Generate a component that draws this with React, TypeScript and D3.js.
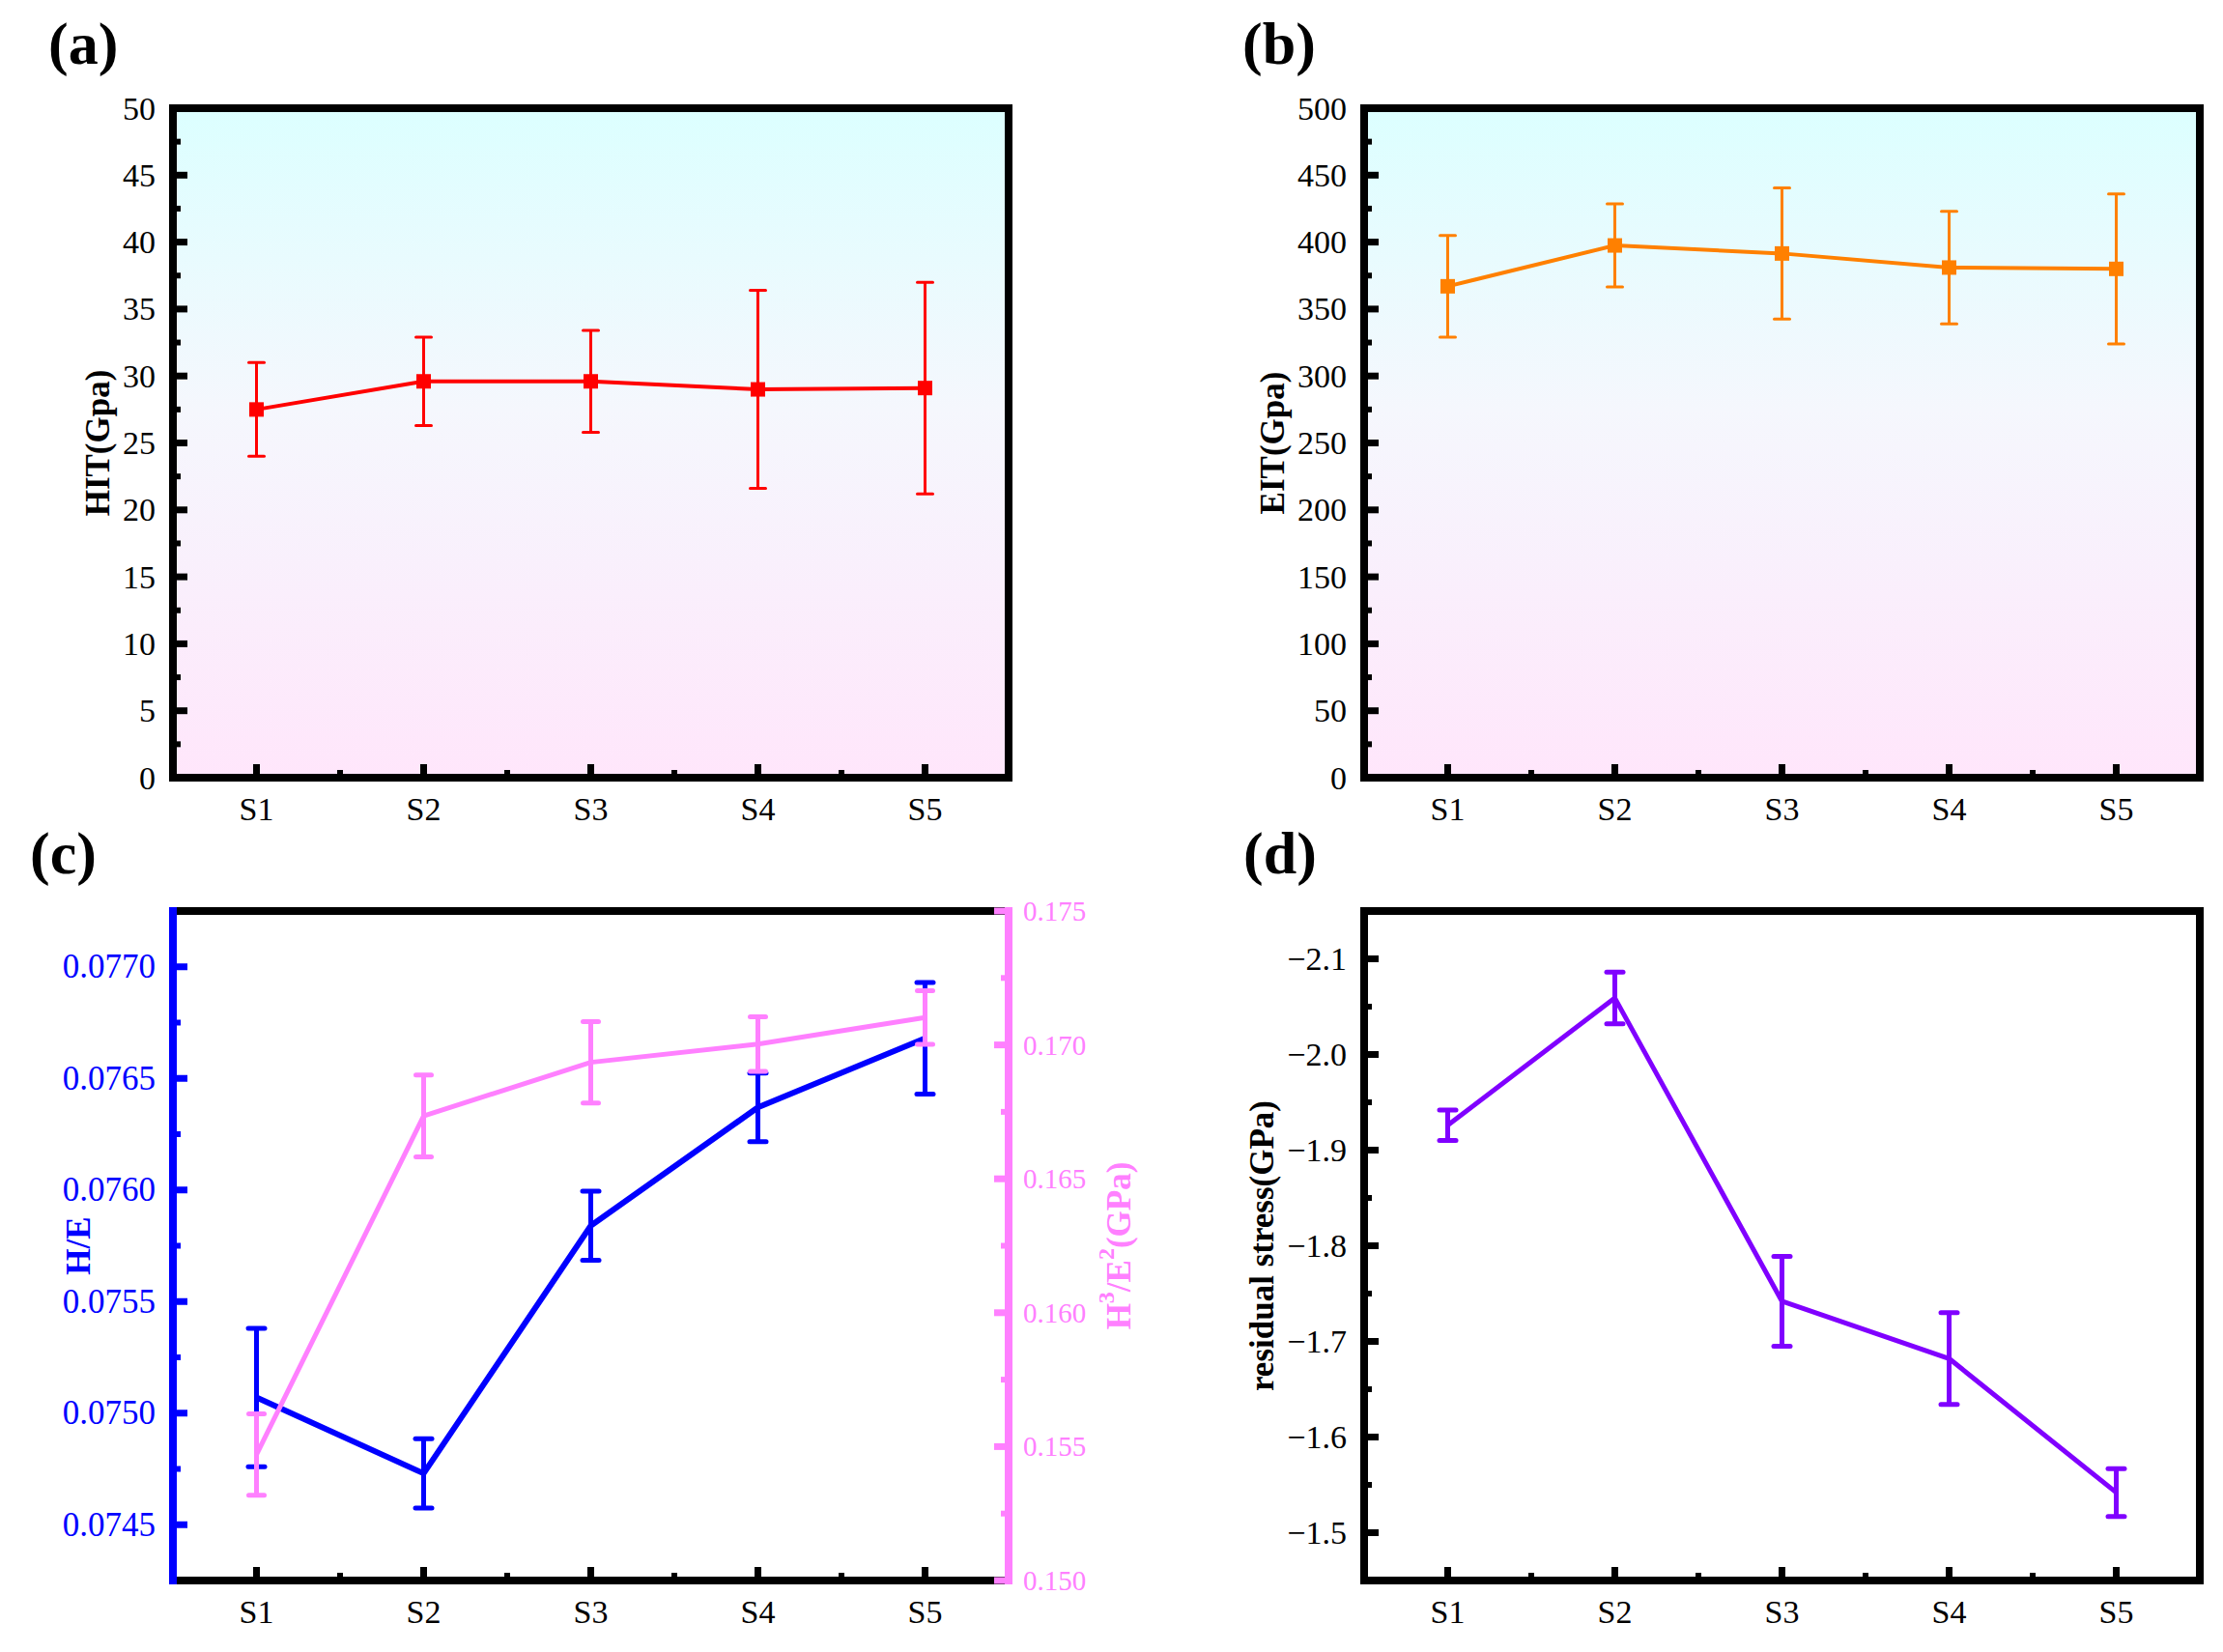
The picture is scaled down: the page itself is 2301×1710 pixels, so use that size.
import * as d3 from "d3";
import React from "react";

// sample names
const categories = ["S1", "S2", "S3", "S4", "S5"];

// (a) hardness
const hitValues = [27.5, 29.6, 29.6, 29.0, 29.1];
const hitErrors = [3.5, 3.3, 3.8, 7.4, 7.9];
const hitTicks = [0, 5, 10, 15, 20, 25, 30, 35, 40, 45, 50];

// (b) modulus
const eitValues = [367, 397.5, 391.5, 381, 380];
const eitErrors = [38, 31, 49, 42, 56];
const eitTicks = [0, 50, 100, 150, 200, 250, 300, 350, 400, 450, 500];

// (c) H/E and H3/E2
const heValues = [0.07507, 0.07473, 0.07584, 0.07637, 0.07668];
const heErrors = [0.00031, 0.000155, 0.000155, 0.000154, 0.00025];
const heTicks = [0.0745, 0.075, 0.0755, 0.076, 0.0765, 0.077];
const h3e2Values = [0.1547, 0.16735, 0.16935, 0.17003, 0.17102];
const h3e2Errors = [0.00152, 0.00153, 0.00152, 0.00102, 0.001];
const h3e2Ticks = [0.15, 0.155, 0.16, 0.165, 0.17, 0.175];

// (d) residual stress
const stressValues = [-1.926, -2.059, -1.742, -1.682, -1.542];
const stressErrors = [0.016, 0.027, 0.047, 0.048, 0.025];
const stressTicks = [-2.1, -2.0, -1.9, -1.8, -1.7, -1.6, -1.5];

const FONT = "'Liberation Serif', 'Times New Roman', serif";
const FRAME = 8;

type Box = { left: number; right: number; top: number; bottom: number };

const col1 = { left: 179, right: 1044 };
const col2 = { left: 1412, right: 2277 };
const row1 = { top: 112, bottom: 805 };
const row2 = { top: 943, bottom: 1636 };

const midpoints = (ticks: number[]) =>
  ticks.slice(1).map((t, i) => (t + ticks[i]) / 2);

function xScaleFor(b: Box) {
  return d3.scaleLinear().domain([0.5, 5.5]).range([b.left, b.right]);
}

interface SeriesProps {
  values: number[];
  errors: number[];
  color: string;
  x: d3.ScaleLinear<number, number>;
  y: d3.ScaleLinear<number, number>;
  lineWidth: number;
  barWidth: number;
  capWidth: number;
  marker?: number;
}

function Series({ values, errors, color, x, y, lineWidth, barWidth, capWidth, marker }: SeriesProps) {
  const line = d3
    .line<number>()
    .x((_, i) => x(i + 1))
    .y((d) => y(d));
  return (
    <g>
      {values.map((v, i) => {
        const cx = x(i + 1);
        const y1 = y(v - errors[i]);
        const y2 = y(v + errors[i]);
        return (
          <g key={i} stroke={color} strokeWidth={barWidth}>
            <line x1={cx} x2={cx} y1={y1} y2={y2} />
            <line x1={cx - capWidth / 2} x2={cx + capWidth / 2} y1={y1} y2={y1} strokeLinecap="round" />
            <line x1={cx - capWidth / 2} x2={cx + capWidth / 2} y1={y2} y2={y2} strokeLinecap="round" />
          </g>
        );
      })}
      <path d={line(values) || ""} fill="none" stroke={color} strokeWidth={lineWidth} strokeLinejoin="round" />
      {marker
        ? values.map((v, i) => (
            <rect
              key={i}
              x={x(i + 1) - marker / 2}
              y={y(v) - marker / 2}
              width={marker}
              height={marker}
              fill={color}
            />
          ))
        : null}
    </g>
  );
}

function LeftAxis({
  b, y, ticks, fmt, color, fontSize = 34,
}: { b: Box; y: d3.ScaleLinear<number, number>; ticks: number[]; fmt: (n: number) => string; color: string; fontSize?: number }) {
  const minors = midpoints(ticks);
  return (
    <g>
      {ticks.map((t) => (
        <line key={"M" + t} x1={b.left} x2={b.left + FRAME / 2 + 11} y1={y(t)} y2={y(t)} stroke={color} strokeWidth={7} />
      ))}
      {minors.map((t) => (
        <line key={"m" + t} x1={b.left} x2={b.left + FRAME / 2 + 4} y1={y(t)} y2={y(t)} stroke={color} strokeWidth={6} />
      ))}
      {ticks.map((t) => (
        <text
          key={"t" + t}
          x={b.left - 18}
          y={y(t)}
          textAnchor="end"
          dominantBaseline="central"
          fontFamily={FONT}
          fontSize={fontSize}
          fill={color}
        >
          {fmt(t)}
        </text>
      ))}
    </g>
  );
}

function BottomAxis({ b, x }: { b: Box; x: d3.ScaleLinear<number, number> }) {
  const major = categories.map((_, i) => i + 1);
  const minor = [1.5, 2.5, 3.5, 4.5];
  return (
    <g>
      {major.map((t) => (
        <line key={"M" + t} x1={x(t)} x2={x(t)} y1={b.bottom} y2={b.bottom - FRAME / 2 - 10} stroke="#000" strokeWidth={7} />
      ))}
      {minor.map((t) => (
        <line key={"m" + t} x1={x(t)} x2={x(t)} y1={b.bottom} y2={b.bottom - FRAME / 2 - 4} stroke="#000" strokeWidth={6} />
      ))}
      {categories.map((c, i) => (
        <text key={c} x={x(i + 1)} y={b.bottom + 44} textAnchor="middle" fontFamily={FONT} fontSize={34} fill="#000">
          {c}
        </text>
      ))}
    </g>
  );
}

function YTitle({ x, y, color, children }: { x: number; y: number; color: string; children: React.ReactNode }) {
  return (
    <text
      transform={`translate(${x},${y}) rotate(-90)`}
      textAnchor="middle"
      dominantBaseline="central"
      fontFamily={FONT}
      fontWeight="bold"
      fontSize={35}
      fill={color}
    >
      {children}
    </text>
  );
}

function PanelLabel({ x, y, text }: { x: number; y: number; text: string }) {
  return (
    <text x={x} y={y} fontFamily={FONT} fontWeight="bold" fontSize={62} fill="#000">
      {text}
    </text>
  );
}

function Frame({ b }: { b: Box }) {
  return (
    <rect x={b.left} y={b.top} width={b.right - b.left} height={b.bottom - b.top} fill="none" stroke="#000" strokeWidth={FRAME} />
  );
}

export default function App() {
  const bA: Box = { ...col1, ...row1 };
  const bB: Box = { ...col2, ...row1 };
  const bC: Box = { ...col1, ...row2 };
  const bD: Box = { ...col2, ...row2 };

  const xA = xScaleFor(bA);
  const xB = xScaleFor(bB);
  const xC = xScaleFor(bC);
  const xD = xScaleFor(bD);

  const yA = d3.scaleLinear().domain([0, 50]).range([bA.bottom, bA.top]);
  const yB = d3.scaleLinear().domain([0, 500]).range([bB.bottom, bB.top]);
  const yC = d3.scaleLinear().domain([0.07425, 0.07725]).range([bC.bottom, bC.top]);
  const yC2 = d3.scaleLinear().domain([0.15, 0.175]).range([bC.bottom, bC.top]);
  const yD = d3.scaleLinear().domain([-1.45, -2.15]).range([bD.bottom, bD.top]);

  const f0 = d3.format("d");
  const f4 = d3.format(".4f");
  const f3 = d3.format(".3f");
  const f1 = d3.format(".1f");

  const c2minor = midpoints(h3e2Ticks);

  return (
    <svg
      width={2301}
      height={1710}
      viewBox="0 0 2301 1710"
      style={{ position: "absolute", left: 0, top: 0, background: "#fff" }}
    >
      <defs>
        <linearGradient id="bgGrad" x1="0" y1="0" x2="0" y2="1">
          <stop offset="0" stopColor="#dcffff" />
          <stop offset="0.45" stopColor="#f5f7fd" />
          <stop offset="1" stopColor="#ffe6fb" />
        </linearGradient>
      </defs>
      <rect width={2301} height={1710} fill="#fff" />

      {/* (a) */}
      <PanelLabel x={50} y={66} text="(a)" />
      <rect x={bA.left} y={bA.top} width={bA.right - bA.left} height={bA.bottom - bA.top} fill="url(#bgGrad)" />
      <Series values={hitValues} errors={hitErrors} color="#ff0000" x={xA} y={yA} lineWidth={4} barWidth={3} capWidth={16} marker={15} />
      <Frame b={bA} />
      <LeftAxis b={bA} y={yA} ticks={hitTicks} fmt={f0} color="#000" />
      <BottomAxis b={bA} x={xA} />
      <YTitle x={101} y={(bA.top + bA.bottom) / 2} color="#000">HIT(Gpa)</YTitle>

      {/* (b) */}
      <PanelLabel x={1286} y={66} text="(b)" />
      <rect x={bB.left} y={bB.top} width={bB.right - bB.left} height={bB.bottom - bB.top} fill="url(#bgGrad)" />
      <Series values={eitValues} errors={eitErrors} color="#ff8000" x={xB} y={yB} lineWidth={4} barWidth={3} capWidth={16} marker={15} />
      <Frame b={bB} />
      <LeftAxis b={bB} y={yB} ticks={eitTicks} fmt={f0} color="#000" />
      <BottomAxis b={bB} x={xB} />
      <YTitle x={1317} y={(bB.top + bB.bottom) / 2} color="#000">EIT(Gpa)</YTitle>

      {/* (c) */}
      <PanelLabel x={31} y={904} text="(c)" />
      <Series values={heValues} errors={heErrors} color="#0000ff" x={xC} y={yC} lineWidth={6} barWidth={5} capWidth={17} />
      <Series values={h3e2Values} errors={h3e2Errors} color="#ff80ff" x={xC} y={yC2} lineWidth={5} barWidth={5} capWidth={16} />
      <line x1={bC.left} x2={bC.right} y1={bC.top} y2={bC.top} stroke="#000" strokeWidth={FRAME} />
      <line x1={bC.left} x2={bC.right} y1={bC.bottom} y2={bC.bottom} stroke="#000" strokeWidth={FRAME} />
      <line x1={bC.left} x2={bC.left} y1={bC.top - FRAME / 2} y2={bC.bottom + FRAME / 2} stroke="#0000ff" strokeWidth={FRAME} />
      <line x1={bC.right} x2={bC.right} y1={bC.top - FRAME / 2} y2={bC.bottom + FRAME / 2} stroke="#ff80ff" strokeWidth={FRAME} />
      <LeftAxis b={bC} y={yC} ticks={heTicks} fmt={f4} color="#0000ff" fontSize={35} />
      {h3e2Ticks.map((t) => (
        <line key={"R" + t} x1={bC.right} x2={bC.right - FRAME / 2 - 11} y1={yC2(t)} y2={yC2(t)} stroke="#ff80ff" strokeWidth={7} />
      ))}
      {c2minor.map((t) => (
        <line key={"r" + t} x1={bC.right} x2={bC.right - FRAME / 2 - 4} y1={yC2(t)} y2={yC2(t)} stroke="#ff80ff" strokeWidth={6} />
      ))}
      {h3e2Ticks.map((t) => (
        <text
          key={"rt" + t}
          x={bC.right + 15}
          y={yC2(t)}
          textAnchor="start"
          dominantBaseline="central"
          fontFamily={FONT}
          fontSize={29}
          fill="#ff80ff"
        >
          {f3(t)}
        </text>
      ))}
      <BottomAxis b={bC} x={xC} />
      <YTitle x={81} y={(bC.top + bC.bottom) / 2} color="#0000ff">H/E</YTitle>
      <text
        transform={`translate(1158,${(bC.top + bC.bottom) / 2}) rotate(-90)`}
        textAnchor="middle"
        dominantBaseline="central"
        fontFamily={FONT}
        fontWeight="bold"
        fontSize={35}
        fill="#ff80ff"
      >
        <tspan>H</tspan>
        <tspan dy={-13} fontSize={24}>3</tspan>
        <tspan dy={13}>/E</tspan>
        <tspan dy={-13} fontSize={24}>2</tspan>
        <tspan dy={13}>(GPa)</tspan>
      </text>

      {/* (d) */}
      <PanelLabel x={1287} y={904} text="(d)" />
      <Series values={stressValues} errors={stressErrors} color="#8000ff" x={xD} y={yD} lineWidth={5} barWidth={5} capWidth={17} />
      <Frame b={bD} />
      <LeftAxis b={bD} y={yD} ticks={stressTicks} fmt={f1} color="#000" />
      <BottomAxis b={bD} x={xD} />
      <YTitle x={1306} y={(bD.top + bD.bottom) / 2} color="#000">residual stress(GPa)</YTitle>
    </svg>
  );
}
